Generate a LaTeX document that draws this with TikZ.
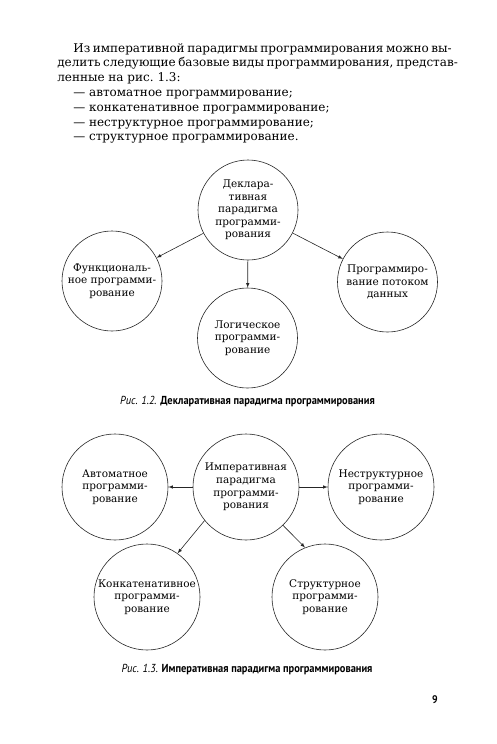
\documentclass[tikz,border=0pt]{standalone}
\usepackage{fontspec}
\setmainfont{DejaVu Serif}
\newfontfamily\capfont[FakeStretch=0.9]{PT Sans}
\usetikzlibrary{arrows}

\begin{document}
\begin{tikzpicture}[x=1pt,y=-1pt,->,>=latex,draw=black!85,line width=0.6pt]
    \tikzstyle{every node}=[inner sep=0pt]
    \tikzstyle{para}=[circle,draw,align=center,font=\fontsize{10.5}{12.6}\selectfont]
    \tikzstyle{small para}=[para,minimum size=100pt]
    \tikzstyle{big para}=[para,minimum size=106pt]
    \tikzstyle{body}=[anchor=base west,font=\fontsize{12}{14.8}\selectfont]
    \tikzstyle{caption}=[font=\capfont\fontsize{11.6}{13}\selectfont]
    \useasboundingbox (0,0) rectangle (496,744);

    % Text above the figures
    \node[body] (t1) at (73,52) {\hbox to 375pt{Из императивной парадигмы программирования можно вы-}};
    \node[body] (t2) at (57,66.8) {\hbox to 391pt{делить следующие базовые виды программирования, представ-}};
    \node[body] (t3) at (57,81.6) {ленные на рис.~1.3:};
    \foreach \txt [count=\i] in {автоматное программирование;,
                                 конкатенативное программирование;,
                                 неструктурное программирование;,
                                 структурное программирование.}
        \node[body] (li-\i) at (73,81.6+14.8*\i) {— \txt};

    % Fig. 1.2
    \node[small para] (decl) at (248,210) {Деклара-\\тивная\\парадигма\\программи-\\рования};
    \node[small para] (func) at (112,281) {Функциональ-\\ное программи-\\рование};
    \node[small para] (logic) at (247.5,338) {Логическое\\программи-\\рование};
    \node[small para] (flow) at (387.5,282) {Программиро-\\вание потоком\\данных};

    \path (decl) edge (func)
          (decl) edge (logic)
          (decl) edge (flow);

    \node[caption] (cap1) at (247.5,402) {{\itshape Рис. 1.2.} \bfseries Декларативная парадигма программирования};

    % Fig. 1.3
    \node[big para] (imp) at (246,487) {Императивная\\парадигма\\программи-\\рования};
    \node[big para] (auto) at (115,487) {Автоматное\\программи-\\рование};
    \node[big para] (unstr) at (381,487) {Неструктурное\\программи-\\рование};
    \node[big para] (concat) at (147,597) {Конкатенативное\\программи-\\рование};
    \node[big para] (struct) at (325,597) {Структурное\\программи-\\рование};

    \path (imp) edge (auto)
          (imp) edge (unstr)
          (imp.-141) edge (concat.55)
          (imp.-46) edge (struct.112);

    \node[caption] (cap2) at (247,670) {{\itshape Рис. 1.3.} \bfseries Императивная парадигма программирования};

    \node[caption,font=\capfont\bfseries\fontsize{11}{12}\selectfont] (page) at (435,700) {9};
\end{tikzpicture}
\end{document}
